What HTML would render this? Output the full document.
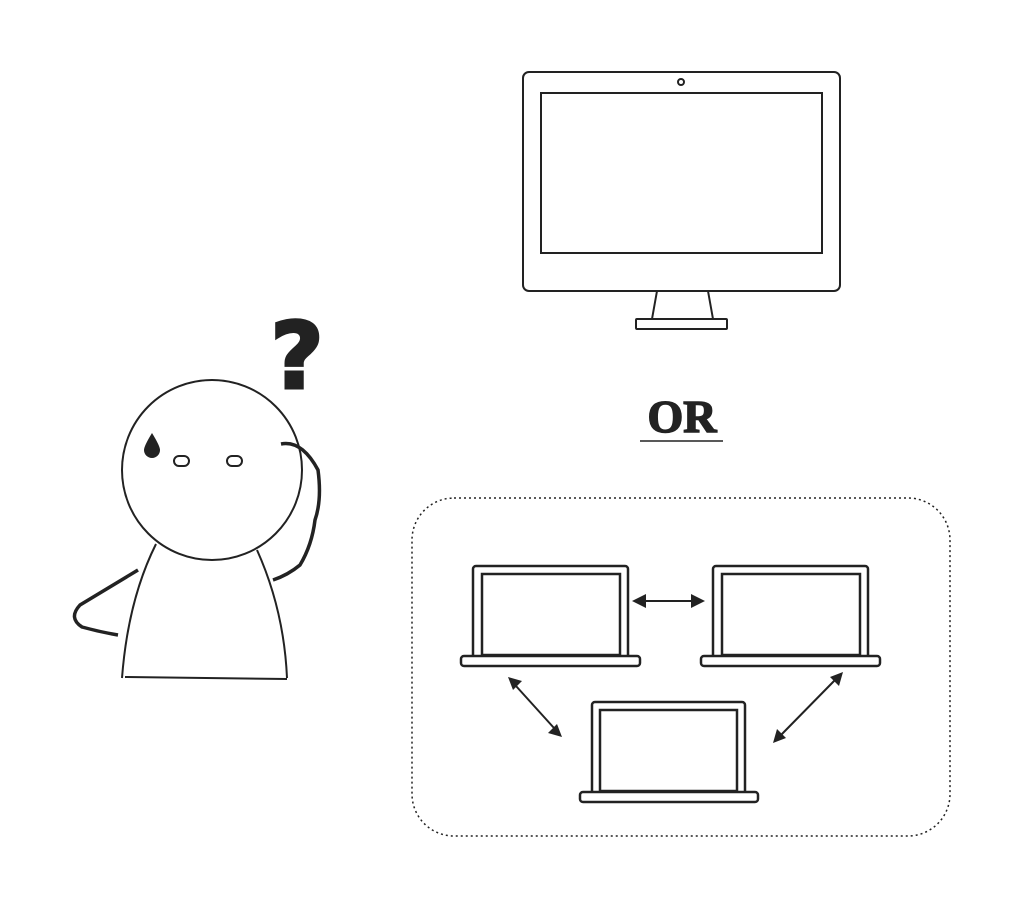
<!DOCTYPE html>
<html><head><style>body{margin:0;background:#fff}svg{display:block}</style></head><body>
<svg width="1024" height="910" viewBox="0 0 1024 910" xmlns="http://www.w3.org/2000/svg">
<g fill="none" stroke="#222" stroke-width="2">
<rect x="523" y="72" width="317" height="219" rx="6"/>
<rect x="541" y="93" width="281" height="160"/>
<circle cx="681" cy="82" r="3"/>
<path d="M657 291 L652 319 M708 291 L713 319"/>
<rect x="636" y="319" width="91" height="10" rx="1"/>
<rect x="412" y="498" width="538" height="338" rx="42" stroke-dasharray="2 3" stroke-width="1.5"/>
<g stroke-width="2.5">
<path d="M473 656 V569 a3 3 0 0 1 3-3 H625 a3 3 0 0 1 3 3 V656"/><rect x="482" y="574" width="138" height="81"/><rect x="461" y="656" width="179" height="10" rx="3"/>
<path d="M713 656 V569 a3 3 0 0 1 3-3 H865 a3 3 0 0 1 3 3 V656"/><rect x="722" y="574" width="138" height="81"/><rect x="701" y="656" width="179" height="10" rx="3"/>
<path d="M592 792 V705 a3 3 0 0 1 3-3 H742 a3 3 0 0 1 3 3 V792"/><rect x="600" y="710" width="137" height="81"/><rect x="580" y="792" width="178" height="10" rx="3"/>
</g>
<path d="M645 601 H692 M516 686 L554 728 M835 680 L781 735" stroke-width="2"/>
<circle cx="212" cy="470" r="90"/>
<path d="M156 544 Q128 600 122 678 M125 677 L287 679 M257 550 Q284 610 287 678"/>
<path d="M138 570 L80 605 Q68 618 82 627 Q100 632 118 635" stroke-width="3.5"/>
<path d="M281 444 Q302 440 318 470 Q322 500 315 520 Q312 545 300 565 Q288 575 273 580" stroke-width="3.5"/>
<rect x="174" y="456" width="15" height="10" rx="5"/>
<rect x="227" y="456" width="15" height="10" rx="5"/>
</g>
<g fill="#222">
<path d="M632 601 l14 -7 v14 z M705 601 l-14 -7 v14 z"/>
<path d="M508 677 l14 4 l-9 9 z M562 737 l-14 -4 l9 -9 z"/>
<path d="M843 672 l-4 14 l-9 -9 z M773 743 l4 -14 l9 9 z"/>
<path d="M152 433 Q144 446 144 450 a8 8 0 0 0 16 0 Q160 446 152 433 z"/>
</g>
<text x="297" y="388" font-family="'DejaVu Sans',sans-serif" font-weight="bold" font-size="92" text-anchor="middle" fill="#222" stroke="#222" stroke-width="3">?</text>
<text x="682" y="432" font-family="'Liberation Serif',serif" font-weight="bold" font-size="46" text-anchor="middle" fill="#222" stroke="#222" stroke-width="1.5">OR</text>
<line x1="640" y1="441" x2="723" y2="441" stroke="#222" stroke-width="1.5"/>
</svg>
</body></html>
